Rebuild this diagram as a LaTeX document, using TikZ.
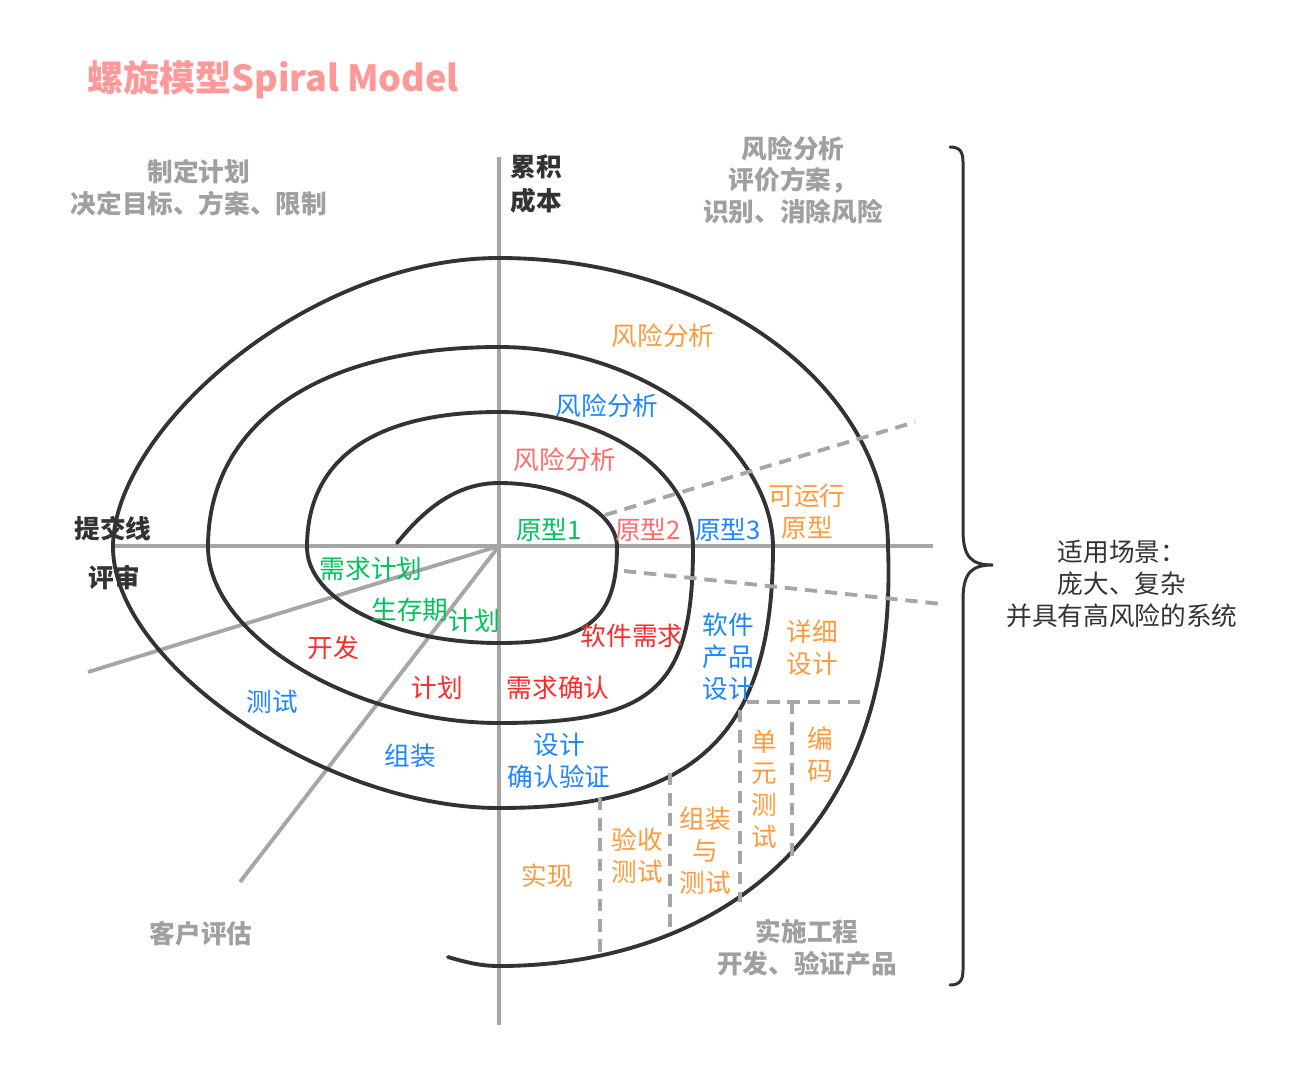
\documentclass[tikz,border=0pt]{standalone}
\usepackage{fontspec}
\setmainfont{Noto Sans CJK SC}
\usepackage{tikz}

\definecolor{spiralgray}{HTML}{333333}
\definecolor{axisgray}{HTML}{A6A6A6}
\definecolor{notegray}{HTML}{A0A0A0}
\definecolor{titlepink}{HTML}{FF9999}
\definecolor{lblorange}{HTML}{FF9A3C}
\definecolor{lblblue}{HTML}{1C86FF}
\definecolor{lblred}{HTML}{FF2A2A}
\definecolor{lblpink}{HTML}{FF6B6B}
\definecolor{lblgreen}{HTML}{00C25A}

\tikzset{
	spiralline/.style={draw=spiralgray, line width=2.2pt, line cap=round},
	axisline/.style={draw=axisgray, line width=2.2pt},
	dashline/.style={draw=axisgray, line width=2.2pt, dash pattern=on 7pt off 4.5pt},
	bracepath/.style={draw=spiralgray, line width=1.7pt, line cap=round},
	lbl/.style={inner sep=0pt, align=center, font=\fontsize{14.6}{18.1}\selectfont},
	graynote/.style={inner sep=0pt, align=center, text=notegray, font=\fontsize{14.6}{18.1}\selectfont\bfseries},
	axlbl/.style={inner sep=0pt, align=left, text=spiralgray, font=\fontsize{14.6}{19.3}\selectfont\bfseries}
}

\begin{document}
\begin{tikzpicture}[x=0.02cm, y=-0.02cm]
		\useasboundingbox (0,0) rectangle (1296,1076);

		\node[anchor=west, inner sep=0pt, text=titlepink, font=\fontsize{20.5}{24}\selectfont\bfseries] (title) at (87,80) {螺旋模型Spiral Model};

		\begin{scope}
				\coordinate (O) at (499,546);
				\foreach \n/\x/\y in {
						axT/499/157,
						axB/499/1025,
						axL/115/546,
						axR/933/546,
						devL/88/672,
						cusL/240/882
				}{
				\coordinate (\n) at (\x,\y);
				}
				\draw[axisline] (axT) -- (axB);
				\draw[axisline] (axL) -- (axR);
				\draw[axisline] (O) -- (devL);
				\draw[axisline] (O) -- (cusL);
		\end{scope}

		\draw[spiralline] (397,543)
				.. controls (420,515) and (452,483) .. (499,483)
				.. controls (564,483) and (617,512) .. (617,547)
				.. controls (617,619) and (588,643) .. (499,643)
				.. controls (393,643) and (307,600) .. (307,547)
				.. controls (307,459) and (374,412) .. (499,412)
				.. controls (606,412) and (693,472) .. (693,547)
				.. controls (693,688) and (654,723) .. (499,723)
				.. controls (353,723) and (208,635) .. (208,547)
				.. controls (208,423) and (319,347) .. (499,347)
				.. controls (650,347) and (773,451) .. (773,547)
				.. controls (773,735) and (696,808) .. (499,808)
				.. controls (325,808) and (113,664) .. (113,547)
				.. controls (113,431) and (306,258) .. (499,258)
				.. controls (714,258) and (888,387) .. (888,547)
				.. controls (900,850) and (700,966) .. (499,966)
				.. controls (480,966) and (465,962) .. (448,957);

		\begin{scope}
				\foreach \n/\x/\y in {
						d1a/605/515, d1b/915/422,
						d2a/624/571, d2b/942/604,
						d3a/747/702, d3b/868/702,
						d4a/740/710, d4b/740/902,
						d5a/792/702, d5b/792/857,
						d6a/670/773, d6b/670/932,
						d7a/600/798, d7b/600/957
				}{
				\coordinate (\n) at (\x,\y);
				}
				\foreach \i in {1,...,7}{
				\draw[dashline] (d\i a) -- (d\i b);
				}
		\end{scope}

		\node[graynote] (plan) at (199,188) {制定计划\\决定目标、方案、限制};
		\node[graynote] (risk) at (793,180) {风险分析\\评价方案，\\识别、消除风险};
		\node[graynote] (cust) at (201,934) {客户评估};
		\node[graynote] (impl) at (807,948) {实施工程\\开发、验证产品};

		\node[axlbl, anchor=west] (cost) at (510,184) {累积\\成本};
		\node[axlbl] (submit) at (113,529) {提交线};
		\node[axlbl] (review) at (114,578) {评审};

		\foreach \n/\x/\y/\col/\txt in {
				ra3/663/336/lblorange/风险分析,
				ra2/607/406/lblblue/风险分析,
				ra1/565/460/lblpink/风险分析,
				pr1/549/530/lblgreen/原型1,
				pr2/648/530/lblpink/原型2,
				pr3/728/530/lblblue/原型3,
				rq1/371/569/lblgreen/需求计划,
				lc1/410/610/lblgreen/生存期,
				lc2/474/621/lblgreen/计划,
				dv1/333/648/lblred/开发,
				pl1/437/688/lblred/计划,
				rq2/632/636/lblred/软件需求,
				rq3/558/688/lblred/需求确认,
				ts1/272/702/lblblue/测试,
				as1/410/756/lblblue/组装,
				im1/550/876/lblorange/实现
		}{
		\node[lbl, text=\col] (\n) at (\x,\y) {\txt};
		}

		\node[lbl, text=lblorange] (pr4) at (807,512) {可运行\\原型};
		\node[lbl, text=lblblue] (ds1) at (728,657) {软件\\产品\\设计};
		\node[lbl, text=lblblue] (ds2) at (559,761) {设计\\确认验证};
		\node[lbl, text=lblorange] (ds3) at (812,648) {详细\\设计};
		\node[lbl, text=lblorange] (cd1) at (820,755) {编\\码};
		\node[lbl, text=lblorange] (ut1) at (764,789) {单\\元\\测\\试};
		\node[lbl, text=lblorange] (it1) at (705,851) {组装\\与\\测试};
		\node[lbl, text=lblorange] (at1) at (637,856) {验收\\测试};

		\draw[bracepath] (950,147) .. controls (960,147) and (963,152) .. (963,162)
				-- (963,530) .. controls (963,558) and (972,565) .. (993,565)
				.. controls (972,565) and (963,572) .. (963,600)
				-- (963,970) .. controls (963,980) and (960,985) .. (950,985);

		\node[lbl, text=spiralgray] (scene) at (1122,584) {适用场景：\\庞大、复杂\\并具有高风险的系统};

\end{tikzpicture}
\end{document}
